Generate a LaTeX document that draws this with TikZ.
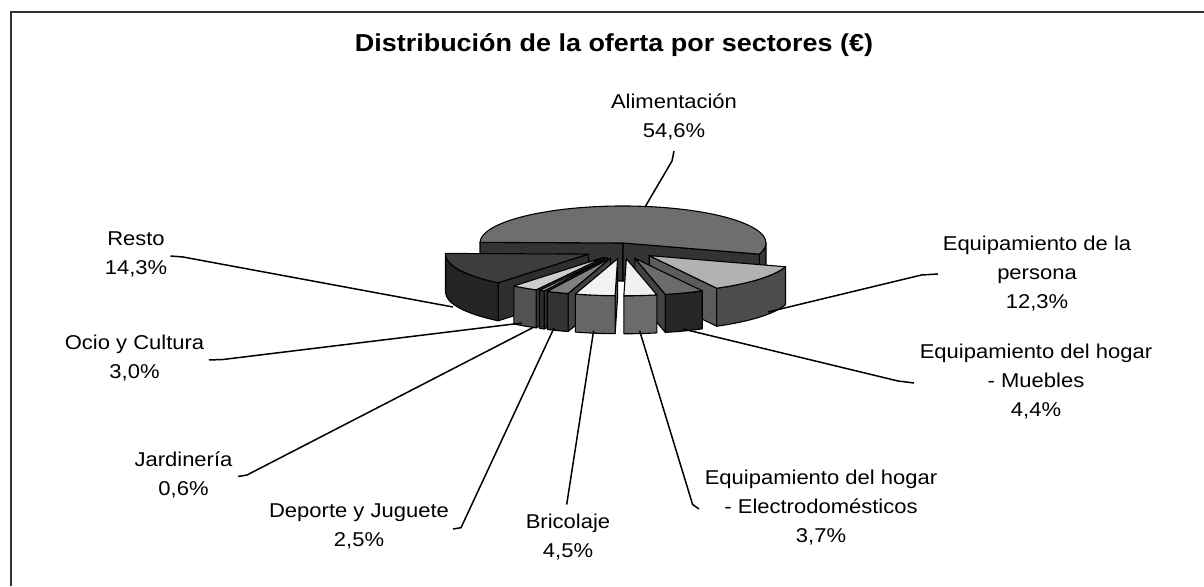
\documentclass[tikz,border=0pt]{standalone}
\usepackage{fontspec}
\setmainfont{Liberation Sans}[FakeStretch=1.1]
\newcommand\pTop[3]{\filldraw[face, fill=#3] (0,0) -- (#1:143pt and 37pt) arc[start angle=#1, end angle=#2, x radius=143pt, y radius=37pt] -- cycle;}
\newcommand\pSide[3]{\filldraw[face, fill=#3] (#1:143pt and 37pt) arc[start angle=#1, end angle=#2, x radius=143pt, y radius=37pt] -- ++(0,-38) arc[start angle=#2, end angle=#1, x radius=143pt, y radius=37pt] -- cycle;}
\newcommand\pCut[2]{\filldraw[face, fill=#2] (0,0) -- (#1:143pt and 37pt) -- ++(0,-38) -- (0,-38) -- cycle;}
\begin{document}
\begin{tikzpicture}[x=1pt,y=1pt,
  lbl/.style={font=\fontsize{20}{29}\selectfont, align=center, inner sep=0pt},
  lead/.style={draw=black, line width=1.5pt, line join=round},
  face/.style={draw=black, line width=1.1pt, line join=round},
  frame/.style={draw=black!80, line width=2pt}]
\useasboundingbox (0,0) rectangle (1204,586);
\fill[white] (0,0) rectangle (1204,586);
\draw[frame] (10.5,0) -- (10.5,574) -- (1204,574);

\node[font=\bfseries\fontsize{24.5}{29}\selectfont, inner sep=0pt] (title) at (614,541) {Distribución de la oferta por sectores (€)};

% Alimentacion
\begin{scope}[shift={(623,343)}]
  \pSide{0}{-17.56}{black!78}
  \pCut{179}{black!80}
  \pCut{-17.56}{black!80}
  \pTop{179}{-17.56}{black!57}
\end{scope}
% Resto
\begin{scope}[shift={(588.5,331.9)}]
  \pCut{-129.16}{black!82}
  \pSide{-129.16}{-180}{black!86}
  \pTop{-129.16}{-181}{black!76}
\end{scope}
% Equipamiento de la persona
\begin{scope}[shift={(649.2,330.4)}]
  \pCut{-61.84}{black!64}
  \pSide{-17.56}{-61.84}{black!70}
  \pTop{-17.56}{-61.84}{black!30}
\end{scope}
% Ocio y Cultura
\begin{scope}[shift={(604.1,328.7)}]
  \pCut{-118.36}{black!78}
  \pSide{-118.36}{-129.16}{black!68}
  \pTop{-118.36}{-129.16}{black!20}
\end{scope}
% Jardineria
\begin{scope}[shift={(607.4,328.2)}]
  \pCut{-116.2}{black!80}
  \pSide{-116.2}{-118.36}{black!82}
  \pTop{-116.2}{-118.36}{black!40}
\end{scope}
% Deporte y Juguete
\begin{scope}[shift={(610.4,327.8)}]
  \pCut{-107.2}{black!74}
  \pSide{-107.2}{-116.2}{black!80}
  \pTop{-107.2}{-116.2}{black!50}
\end{scope}
% Muebles
\begin{scope}[shift={(634.8,327.75)}]
  \pCut{-77.68}{black!74}
  \pSide{-61.84}{-77.68}{black!85}
  \pTop{-61.84}{-77.68}{black!58}
\end{scope}
% Bricolaje
\begin{scope}[shift={(617.6,327.3)}]
  \pCut{-91}{black!66}
  \pSide{-91}{-107.2}{black!60}
  \pTop{-91}{-107.2}{black!5}
\end{scope}
% Electrodomesticos
\begin{scope}[shift={(626.35,327.25)}]
  \pSide{-77.68}{-91}{black!58}
  \pTop{-77.68}{-91}{black!6}
\end{scope}

% labels
\node[lbl] (alim) at (674,469.4) {Alimentación\\54,6\%};
\node[lbl] (resto) at (136,332) {Resto\\14,3\%};
\node[lbl] (pers) at (1037,312.5) {Equipamiento de la\\persona\\12,3\%};
\node[lbl] (mueb) at (1036,204.5) {Equipamiento del hogar\\- Muebles\\4,4\%};
\node[lbl] (ocio) at (134.5,228) {Ocio y Cultura\\3,0\%};
\node[lbl] (jard) at (183.5,111.5) {Jardinería\\0,6\%};
\node[lbl] (dep) at (359,59.5) {Deporte y Juguete\\2,5\%};
\node[lbl] (bric) at (568,48.5) {Bricolaje\\4,5\%};
\node[lbl] (elec) at (821,78.3) {Equipamiento del hogar\\- Electrodomésticos\\3,7\%};

% leader coordinates
\coordinate (alimA) at (674,435); \coordinate (alimB) at (672,425); \coordinate (alimP) at (645,379);
\coordinate (restoA) at (170.5,330); \coordinate (restoB) at (183,329); \coordinate (restoP) at (453,279);
\coordinate (persA) at (938,312); \coordinate (persB) at (921.5,311); \coordinate (persP) at (768,274);
\coordinate (muebA) at (914,203); \coordinate (muebB) at (898,205); \coordinate (muebP) at (683,257);
\coordinate (ocioA) at (209,226); \coordinate (ocioB) at (223,226.5); \coordinate (ocioP) at (522,263);
\coordinate (jardA) at (238,109.5); \coordinate (jardB) at (247,111); \coordinate (jardP) at (534,259);
\coordinate (depA) at (453,57); \coordinate (depB) at (461,58.3); \coordinate (depP) at (554,258);
\coordinate (bricA) at (566.7,81.5); \coordinate (bricP) at (593.6,255.3);
\coordinate (elecA) at (699,77); \coordinate (elecB) at (692.6,81.5); \coordinate (elecP) at (639.6,255.3);

\draw[lead] (alimA) -- (alimB) -- (alimP);
\draw[lead] (restoA) -- (restoB) -- (restoP);
\draw[lead] (persA) -- (persB) -- (persP);
\draw[lead] (muebA) -- (muebB) -- (muebP);
\draw[lead] (ocioA) -- (ocioB) -- (ocioP);
\draw[lead] (jardA) -- (jardB) -- (jardP);
\draw[lead] (depA) -- (depB) -- (depP);
\draw[lead] (bricA) -- (bricP);
\draw[lead] (elecA) -- (elecB) -- (elecP);
\end{tikzpicture}
\end{document}
